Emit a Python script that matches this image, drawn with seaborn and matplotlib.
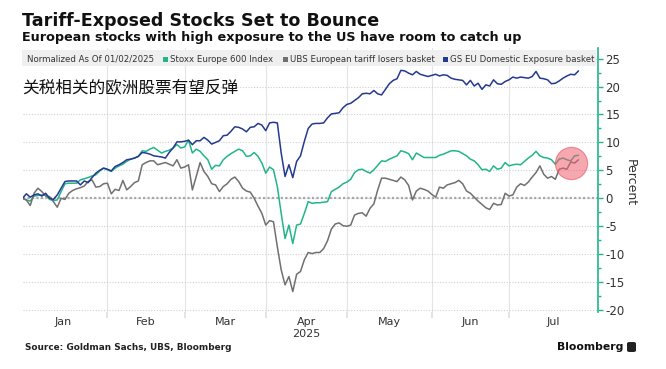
import numpy as np
import pandas as pd
import matplotlib
matplotlib.use("Agg")
import matplotlib.pyplot as plt
from matplotlib.patches import Rectangle, FancyBboxPatch
import seaborn as sns

# ---- data (percent change, normalized as of 01/02/2025) ----
HOLIDAYS = ["2025-01-01", "2025-04-18", "2025-06-09"]
sessions = pd.bdate_range("2025-01-02", "2025-07-25", freq="C", holidays=HOLIDAYS)

series_names = [
    "Stoxx Europe 600 Index",
    "UBS European tariff losers basket",
    "GS EU Domestic Exposure basket",
]
series_colors = ["#22b58a", "#707070", "#24398f"]

stoxx = [
    0.0, -0.3, -0.5, 0.4, 0.5, 0.6, 0.6, -0.2, -0.4, -0.3, 1.2, 2.6, 2.7, 2.7, 2.7, 3.3,
    3.5, 3.7, 4.0, 4.2, 4.9, 5.4, 5.1, 4.8, 5.4, 5.8, 6.1, 6.6, 7.0, 7.2, 7.5, 8.5,
    8.4, 8.8, 9.1, 8.6, 8.1, 8.4, 8.6, 9.0, 9.6, 9.0, 9.2, 10.4, 8.1, 8.8, 8.4, 7.6,
    6.9, 5.2, 5.9, 5.8, 6.9, 7.5, 8.0, 8.4, 8.8, 8.5, 7.5, 7.6, 8.2, 7.5, 6.3, 4.5,
    5.6, 5.1, 2.1, -2.7, -7.2, -4.8, -8.1, -4.8, -4.6, -2.7, -0.6, -0.9, -0.8, -0.8, -0.7, -0.6,
    1.2, 1.6, 2.0, 2.6, 2.9, 3.4, 4.6, 5.1, 5.2, 4.8, 4.5, 5.1, 5.9, 6.7, 6.6, 7.0,
    7.3, 7.6, 8.5, 8.3, 8.0, 6.9, 8.1, 7.7, 7.3, 7.3, 7.3, 7.3, 7.7, 7.9, 8.2, 8.5,
    8.5, 8.4, 8.0, 7.6, 7.0, 6.7, 6.0, 5.1, 5.2, 4.8, 5.8, 5.2, 5.4, 6.4, 5.8, 6.0,
    6.1, 6.0, 6.6, 7.2, 7.7, 8.4, 7.6, 7.3, 7.2, 6.9, 6.1, 7.0, 7.2, 6.9, 6.7, 7.6,
    7.7,
]
ubs = [
    0.0, -0.3, -1.3, 0.9, 1.8, 1.2, 0.4, 0.3, -0.6, -1.6, 0.0, -0.2, 0.9, 1.4, 1.7, 1.9,
    2.2, 3.0, 3.3, 2.0, 2.1, 2.6, 2.7, 0.8, 1.6, 1.4, 3.2, 1.5, 2.1, 2.8, 3.1, 6.0,
    6.4, 6.7, 6.7, 6.0, 6.2, 6.4, 6.1, 5.8, 6.9, 5.4, 5.6, 6.0, 1.5, 3.9, 6.4, 4.8,
    3.9, 2.6, 2.4, 1.2, 2.1, 2.6, 3.4, 3.8, 3.0, 1.8, 1.3, 1.1, 0.0, -1.4, -2.7, -4.8,
    -4.0, -4.2, -8.7, -12.8, -15.5, -14.0, -16.7, -13.6, -13.1, -11.0, -9.7, -9.9, -9.7, -9.7, -9.0, -7.6,
    -5.5, -4.6, -4.4, -4.9, -5.0, -4.8, -3.0, -2.7, -2.6, -3.2, -1.8, -1.0, 1.5, 3.6, 3.6, 3.4,
    3.2, 3.0, 3.8, 3.3, 2.3, -0.3, 1.3, 1.8, 1.6, 1.3, 0.7, 0.2, 2.0, 1.8, 2.4, 2.6,
    2.8, 3.2, 2.6, 1.3, 0.9, 0.2, -0.5, -1.1, -1.7, -2.0, -0.9, -1.2, -1.1, 0.9, 0.4, 0.6,
    2.0, 2.6, 2.3, 2.9, 3.8, 4.6, 5.8, 4.3, 3.6, 3.9, 3.4, 5.2, 5.4, 5.2, 6.5, 6.3,
    6.9,
]
gs = [
    0.0, 0.8, 0.2, 0.6, 0.8, 0.4, 0.9, 0.0, -0.2, 0.6, 1.8, 3.0, 3.1, 3.1, 3.1, 2.4,
    3.1, 2.8, 3.7, 4.5, 5.0, 5.4, 5.2, 4.9, 5.7, 6.0, 6.4, 6.9, 7.0, 7.2, 7.5, 8.2,
    8.1, 7.9, 7.6, 7.5, 7.4, 7.2, 8.2, 9.0, 10.1, 10.1, 10.2, 10.4, 9.6, 10.3, 10.3, 10.9,
    10.4, 9.7, 10.0, 10.3, 11.2, 11.3, 12.0, 12.8, 12.7, 12.4, 11.9, 12.7, 12.8, 13.4, 13.1, 12.1,
    13.5, 13.6, 13.5, 8.1, 3.9, 6.0, 3.7, 6.6, 7.6, 10.2, 12.5, 13.3, 13.4, 13.4, 13.5, 14.4,
    15.1, 15.2, 15.3, 16.2, 16.8, 17.0, 17.5, 18.0, 18.7, 18.8, 18.7, 19.3, 18.7, 18.5, 19.5, 20.5,
    21.1, 21.4, 22.9, 22.8, 22.4, 22.1, 22.7, 22.2, 22.0, 21.8, 22.0, 22.2, 21.9, 22.1, 22.0, 21.5,
    21.3, 21.2, 21.1, 20.3, 21.1, 20.1, 20.6, 19.5, 20.3, 20.1, 21.2, 20.5, 20.4, 20.9, 21.2, 21.7,
    21.5, 21.7, 21.6, 21.5, 21.8, 22.7, 21.5, 21.4, 21.2, 20.5, 20.6, 21.0, 21.5, 21.9, 22.2, 22.1,
    22.8,
]

month_starts = ["2025-01-01", "2025-02-01", "2025-03-01", "2025-04-01",
                "2025-05-01", "2025-06-01", "2025-07-01", "2025-08-01"]
month_labels = ["Jan", "Feb", "Mar", "Apr\n2025", "May", "Jun", "Jul"]
y_ticks = [-20, -15, -10, -5, 0, 5, 10, 15, 20, 25]

circle_date = "2025-07-23"
circle_value = 6.3

# ---- tidy frame for seaborn ----
n = len(sessions)
df = pd.DataFrame({
    "session": np.tile(np.arange(n), 3),
    "value": np.concatenate([stoxx, ubs, gs]),
    "series": np.repeat(series_names, n),
})

start = sessions[0].strftime("%Y-%m-%d")
month_pos = np.array([np.busday_count(start, m, holidays=HOLIDAYS) for m in month_starts])
mid_pos = (month_pos[:-1] + month_pos[1:]) / 2

# ---- figure ----
sns.set_theme(style="white")
plt.rcParams["font.family"] = ["DejaVu Sans", "Noto Sans CJK SC"]
plt.rcParams["axes.unicode_minus"] = False

W, H = 666, 369
fig = plt.figure(figsize=(W / 100, H / 100), dpi=100)


def px(x, y):
    return x / W, 1 - y / H


ax = fig.add_axes([22.5 / W, 1 - 311.7 / H, (597.8 - 22.5) / W, (311.7 - 48) / H])

sns.lineplot(
    data=df, x="session", y="value", hue="series", hue_order=series_names,
    palette=series_colors, linewidth=1.1, estimator=None, legend=False, ax=ax,
)

ax.set_xlim(0, month_pos[-1])
ax.set_ylim(-20.3, 26.9)

# grid
ax.set_yticks(y_ticks)
ax.set_yticks(np.arange(-17.5, 26, 5), minor=True)
ax.grid(axis="y", which="major", color="#cfcfcf", linestyle=(0, (1, 1.5)), linewidth=0.8)
ax.set_xticks(month_pos[1:-1])
ax.set_xticklabels([])
ax.set_xticks(mid_pos, minor=True)
ax.set_xticklabels(month_labels, minor=True)
ax.grid(axis="x", which="major", color="#e4e4e4", linestyle="-", linewidth=0.8)
ax.axhline(0, color="#a8a8a8", linestyle=(0, (1, 1)), linewidth=1.6, zorder=1)

ax.tick_params(axis="x", which="major", length=4, color="#e0e0e0", bottom=True)
ax.tick_params(axis="x", which="minor", length=0, labelsize=8, labelcolor="#333333", pad=4)
ax.yaxis.tick_right()
ax.tick_params(axis="y", which="both", right=True, left=False, color="#22b58a",
               labelcolor="#333333", labelsize=8.5, width=1, pad=2)
ax.tick_params(axis="y", which="major", length=3.5)
ax.tick_params(axis="y", which="minor", length=2)
ax.set_xlabel("")
ax.set_ylabel("")

for side in ["top", "left", "bottom"]:
    ax.spines[side].set_visible(False)
ax.spines["right"].set_color("#22b58a")
ax.spines["right"].set_linewidth(1.2)

# highlight circle
cx = sessions.get_loc(pd.Timestamp(circle_date))
ax.scatter([cx], [circle_value], s=540, color="#f0606e", alpha=0.55,
           edgecolors="#e04858", linewidths=0.8, zorder=5)

fig.text(*px(630, 183), "Percent", rotation=270, ha="center", va="center",
         fontsize=9, color="#333333")

# legend strip
fig.patches.append(Rectangle(px(22, 66), (596 - 22) / W, 16 / H, transform=fig.transFigure,
                             facecolor="#efefef", edgecolor="none", zorder=1))
leg_y = 1 - 59 / H
fig.text(27 / W, leg_y, "Normalized As Of 01/02/2025", fontsize=6.2, color="#333333",
         va="center", zorder=3)
for name, color, x0 in zip(series_names, series_colors, [163, 283, 443]):
    fig.patches.append(Rectangle(px(x0, 61.5), 5 / W, 5 / H, transform=fig.transFigure,
                                 facecolor=color, edgecolor="none", zorder=2))
    fig.text((x0 + 7) / W, leg_y, name, fontsize=6.2, color="#333333", va="center", zorder=3)

# titles and notes
fig.text(*px(22, 26), "Tariff-Exposed Stocks Set to Bounce", fontsize=12.6,
         fontweight="bold", color="#111111", va="baseline")
fig.text(*px(22, 41), "European stocks with high exposure to the US have room to catch up",
         fontsize=9.2, fontweight="bold", color="#111111", va="baseline")
fig.text(*px(22, 88), "关税相关的欧洲股票有望反弹", fontsize=12, color="#111111",
         va="center", family=["Noto Sans CJK SC", "DejaVu Sans"], zorder=3)
fig.text(*px(25, 348), "Source: Goldman Sachs, UBS, Bloomberg", fontsize=6.4,
         fontweight="bold", color="#222222", va="center")
fig.text(*px(623, 347), "Bloomberg", fontsize=7.8, fontweight="bold", color="#111111",
         ha="right", va="center")
fig.patches.append(FancyBboxPatch(px(627, 352), 9 / W, 10 / H, transform=fig.transFigure,
                                  boxstyle="round,pad=0,rounding_size=0.004",
                                  facecolor="#222222", edgecolor="none"))

fig.savefig("out.png", dpi=100)
